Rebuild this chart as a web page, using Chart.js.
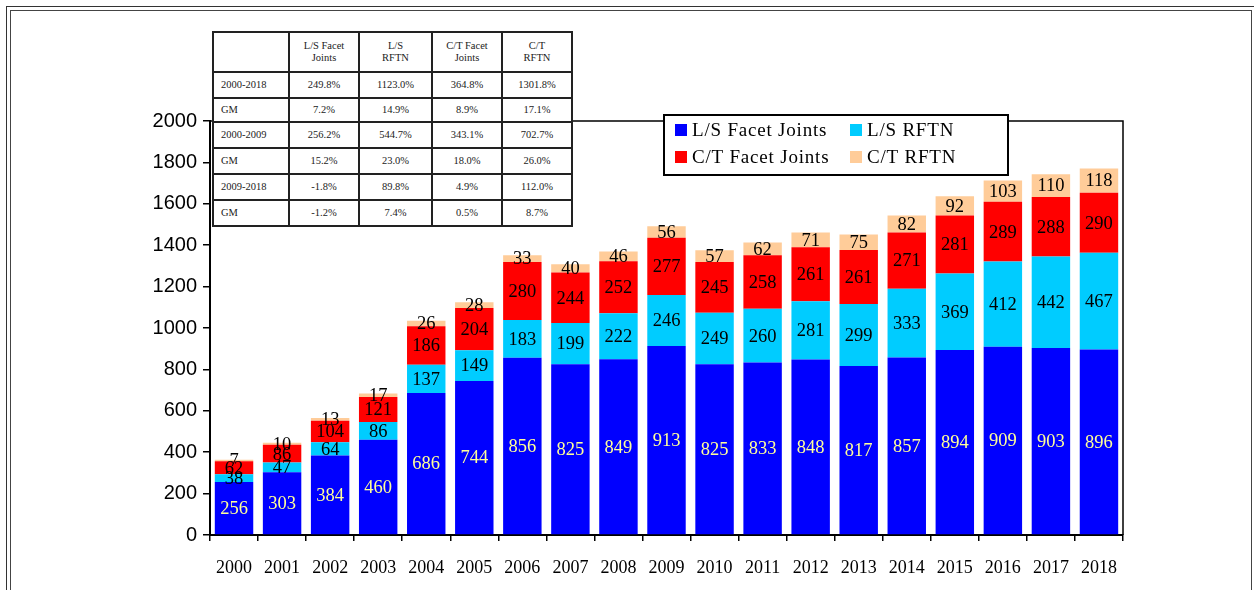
<!DOCTYPE html>
<html><head><meta charset="utf-8">
<script src="https://cdn.jsdelivr.net/npm/chart.js@4"></script>
<style>
html,body{margin:0;padding:0;background:#fff;}
#wrap{position:relative;width:1254px;height:590px;overflow:hidden;}
canvas{position:absolute;left:0;top:0;}
.f1{position:absolute;left:6px;top:6px;width:1260px;height:600px;border:1.5px solid #333;box-sizing:border-box;}
.f2{position:absolute;left:10px;top:10px;width:1242px;height:600px;border:1.5px solid #444;box-sizing:border-box;}
table{position:absolute;left:212px;top:31px;border-collapse:collapse;table-layout:fixed;background:#fff;font-family:"Liberation Serif","Times New Roman",serif;font-size:10.5px;color:#222;}
td{border:2px solid #222;text-align:center;padding:0;line-height:12px;}
td.l{text-align:left;padding-left:7px;}
</style></head>
<body><div id="wrap">
<div class="f1"></div><div class="f2"></div>
<canvas id="c" width="1254" height="590"></canvas>
<table id="tbl"></table>
</div>
<script>
const years = ['2000','2001','2002','2003','2004','2005','2006','2007','2008','2009','2010','2011','2012','2013','2014','2015','2016','2017','2018'];
const lsFacet = [256,303,384,460,686,744,856,825,849,913,825,833,848,817,857,894,909,903,896];
const lsRftn  = [38,47,64,86,137,149,183,199,222,246,249,260,281,299,333,369,412,442,467];
const ctFacet = [62,86,104,121,186,204,280,244,252,277,245,258,261,261,271,281,289,288,290];
const ctRftn  = [7,10,13,17,26,28,33,40,46,56,57,62,71,75,82,92,103,110,118];
const seriesNames = ['L/S Facet Joints','L/S RFTN','C/T Facet Joints','C/T RFTN'];
const tableHeader = ['', 'L/S Facet<br>Joints', 'L/S<br>RFTN', 'C/T Facet<br>Joints', 'C/T<br>RFTN'];
const tableRows = [
  ['2000-2018','249.8%','1123.0%','364.8%','1301.8%'],
  ['GM','7.2%','14.9%','8.9%','17.1%'],
  ['2000-2009','256.2%','544.7%','343.1%','702.7%'],
  ['GM','15.2%','23.0%','18.0%','26.0%'],
  ['2009-2018','-1.8%','89.8%','4.9%','112.0%'],
  ['GM','-1.2%','7.4%','0.5%','8.7%']
];

// build table
(function(){
  const t = document.getElementById('tbl');
  const widths=[76,70,73,70,70];
  let cg='<colgroup>'+widths.map(w=>'<col style="width:'+w+'px">').join('')+'</colgroup>';
  let h='<tr style="height:40px">'+tableHeader.map(x=>'<td>'+x+'</td>').join('')+'</tr>';
  const rh=[26,24,26,26,26,26];
  tableRows.forEach((r,i)=>{
    h+='<tr style="height:'+rh[i]+'px">'+r.map((x,j)=>'<td'+(j===0?' class="l"':'')+'>'+x+'</td>').join('')+'</tr>';
  });
  t.innerHTML=cg+h;
})();

const colors = ['#0000FF','#00CCFF','#FF0000','#FFCC99'];
const labelColors = ['#FFFF99','#000','#000','#000'];

const serif = '"Liberation Serif","Times New Roman",serif';
const sans = '"Liberation Sans",Arial,sans-serif';

const frame = {
  id:'frame',
  beforeDatasetsDraw(chart){
    const a=chart.chartArea, ctx=chart.ctx;
    ctx.save();
    ctx.strokeStyle='#000'; ctx.lineWidth=1.5;
    ctx.beginPath();
    ctx.moveTo(a.left,a.top); ctx.lineTo(a.right,a.top); ctx.lineTo(a.right,a.bottom);
    ctx.stroke();
    ctx.restore();
  }
};

const segLabels = {
  id:'segLabels',
  afterDatasetsDraw(chart){
    const ctx=chart.ctx;
    ctx.save();
    ctx.font='18.5px '+serif;
    ctx.textAlign='center'; ctx.textBaseline='middle';
    chart.data.datasets.forEach((ds,di)=>{
      const meta=chart.getDatasetMeta(di);
      meta.data.forEach((el,i)=>{
        const p=el.getProps(['x','y','base'],true);
        ctx.fillStyle=labelColors[di];
        ctx.fillText(String(ds.data[i]), p.x, (p.y+p.base)/2+1);
      });
    });
    ctx.restore();
  }
};

const boxLegend = {
  id:'boxLegend',
  afterDraw(chart){
    const ctx=chart.ctx;
    ctx.save();
    const x0=664,y0=115,w=344,h=60;
    ctx.fillStyle='#fff'; ctx.fillRect(x0,y0,w,h);
    ctx.strokeStyle='#000'; ctx.lineWidth=2; ctx.strokeRect(x0,y0,w,h);
    ctx.font='19px '+serif; ctx.textBaseline='middle'; ctx.textAlign='left';
    try{ ctx.letterSpacing='0.8px'; }catch(e){}
    const pos=[[675,130],[850,130],[675,157],[850,157]];
    chart.data.datasets.forEach((ds,i)=>{
      const [x,y]=pos[i];
      ctx.fillStyle=ds.backgroundColor; ctx.fillRect(x,y-6,12,12);
      ctx.fillStyle='#000'; ctx.fillText(ds.label, x+17, y+1);
    });
    ctx.restore();
  }
};

new Chart(document.getElementById('c'), {
  type:'bar',
  data:{
    labels: years,
    datasets:[
      {label:seriesNames[0], data:lsFacet, backgroundColor:colors[0]},
      {label:seriesNames[1], data:lsRftn, backgroundColor:colors[1]},
      {label:seriesNames[2], data:ctFacet, backgroundColor:colors[2]},
      {label:seriesNames[3], data:ctRftn, backgroundColor:colors[3]}
    ]
  },
  options:{
    responsive:false, animation:false,
    devicePixelRatio:1,
    layout:{padding:{left:0,top:121,right:131,bottom:0}},
    datasets:{bar:{barPercentage:0.8,categoryPercentage:1,borderWidth:0}},
    plugins:{legend:{display:false},tooltip:{enabled:false},title:{display:false}},
    scales:{
      x:{
        stacked:true,
        grid:{display:true,drawOnChartArea:false,offset:true,tickLength:6,color:'#000',lineWidth:1.5},
        border:{display:true,color:'#000',width:2},
        ticks:{font:{family:serif,size:18},color:'#000',padding:16,maxRotation:0},
        afterFit(s){s.height=55;}
      },
      y:{
        stacked:true, min:0, max:2000,
        grid:{display:true,drawOnChartArea:false,tickLength:7,color:'#000',lineWidth:1.5},
        border:{display:true,color:'#000',width:2},
        ticks:{stepSize:200,font:{family:sans,size:20},color:'#000',padding:6,callback:(v)=>String(v)},
        afterFit(s){s.width=210;}
      }
    }
  },
  plugins:[frame,segLabels,boxLegend]
});
</script>
</body></html>
